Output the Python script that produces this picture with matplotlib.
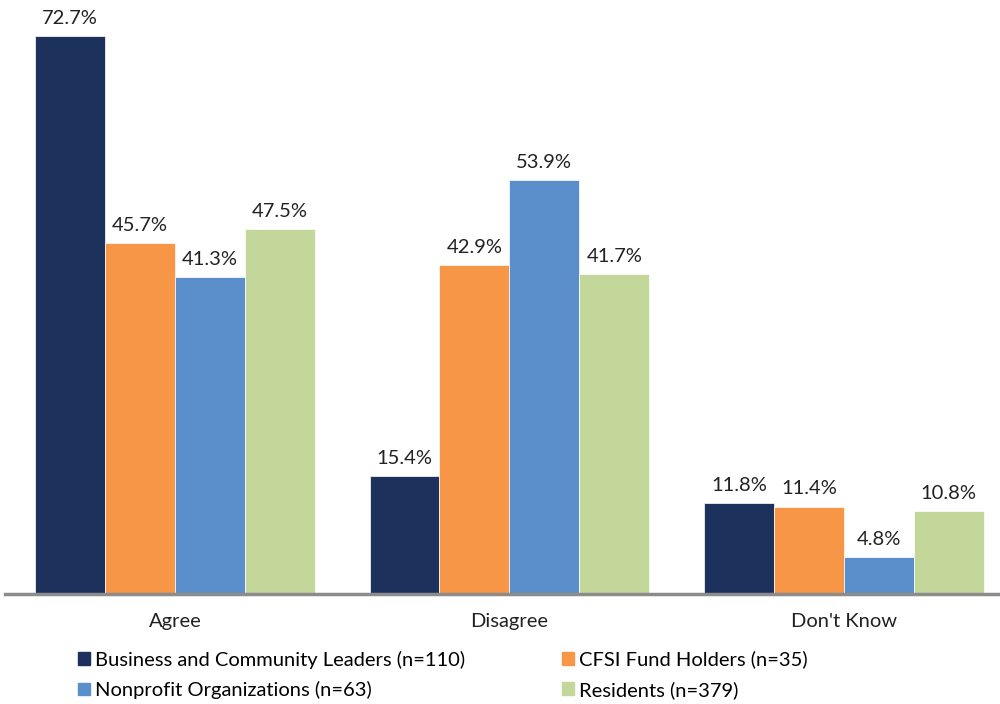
import numpy as np
import matplotlib.pyplot as plt
from matplotlib.patches import Patch

plt.rcParams['font.family'] = ['Lato', 'DejaVu Sans']

categories = ['Agree', 'Disagree', "Don't Know"]
series = ['Business and Community Leaders (n=110)', 'CFSI Fund Holders (n=35)',
          'Nonprofit Organizations (n=63)', 'Residents (n=379)']
values = [
    [72.7, 15.4, 11.8],
    [45.7, 42.9, 11.4],
    [41.3, 53.9, 4.8],
    [47.5, 41.7, 10.8],
]
colors = ['#1C325C', '#F79646', '#5B8FCB', '#C4D79B']

fig = plt.figure(figsize=(10, 7.04), dpi=100)
ax = fig.add_axes([0.005, 0.15625, 0.995, 0.84375])

x = np.arange(len(categories))
w = 0.209
for i, (vals, c) in enumerate(zip(values, colors)):
    pos = x + (i - 1.5) * w
    ax.bar(pos, vals, width=w, color=c, edgecolor='white', linewidth=0.5)
    for p, v in zip(pos, vals):
        ax.text(p, v + 1.2, f'{v:.1f}%', ha='center', va='bottom', fontsize=14.5, color='#222222')

ax.set_xlim(-0.508, 2.467)
ax.set_ylim(0, 77.4)
ax.set_yticks([])
ax.set_xticks(x)
ax.set_xticklabels(categories, fontsize=14.5, color='#222222')
ax.tick_params(axis='x', length=0, pad=14)
for s in ['top', 'right', 'left']:
    ax.spines[s].set_visible(False)
ax.spines['bottom'].set_color('#8C8C8C')
ax.spines['bottom'].set_linewidth(2.5)

handles = [Patch(color=c, label=s) for c, s in zip(colors, series)]
order = [0, 2, 1, 3]
fig.legend([handles[i] for i in order], [series[i] for i in order], ncol=2,
           loc='upper left', bbox_to_anchor=(0.078, 0.076), frameon=False,
           fontsize=14.5, handlelength=0.6, handleheight=0.6, handletextpad=0.25,
           columnspacing=4.8, labelspacing=0.62, borderaxespad=0, borderpad=0)

fig.savefig('out.png', dpi=100)
